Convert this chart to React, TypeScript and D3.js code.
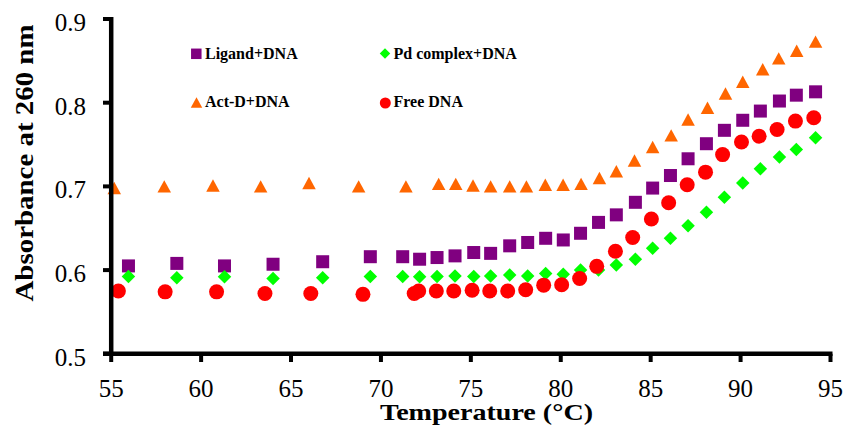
import React from "react";
import * as d3 from "d3";

const xTicks = [55, 60, 65, 70, 75, 80, 85, 90, 95];
const yTicks = [0.5, 0.6, 0.7, 0.8, 0.9];

const ligandT = [55.96, 58.65, 61.3, 64.0, 66.76, 69.41, 71.21, 72.15, 73.12, 74.12, 75.16, 76.1, 77.16, 78.16, 79.16, 80.14, 81.1, 82.1, 83.09, 84.15, 85.11, 86.1, 87.08, 88.1, 89.1, 90.12, 91.1, 92.16, 93.1, 94.17];
const ligandV = [0.605, 0.608, 0.605, 0.607, 0.61, 0.616, 0.616, 0.613, 0.615, 0.617, 0.621, 0.62, 0.629, 0.633, 0.638, 0.636, 0.644, 0.657, 0.666, 0.681, 0.698, 0.713, 0.733, 0.751, 0.767, 0.779, 0.79, 0.802, 0.809, 0.813];

const pdT = ligandT;
const pdV = [0.5925, 0.591, 0.592, 0.59, 0.591, 0.5925, 0.5925, 0.592, 0.5925, 0.593, 0.5925, 0.593, 0.594, 0.593, 0.596, 0.595, 0.6, 0.6, 0.606, 0.613, 0.626, 0.638, 0.653, 0.669, 0.687, 0.704, 0.721, 0.735, 0.744, 0.758];

const actT = [55.17, 57.95, 60.66, 63.31, 66.0, 68.76, 71.39, 73.21, 74.16, 75.12, 76.1, 77.16, 78.09, 79.14, 80.13, 81.13, 82.15, 83.09, 84.1, 85.11, 86.14, 87.08, 88.16, 89.16, 90.12, 91.23, 92.12, 93.12, 94.17];
const actV = [0.698, 0.7, 0.701, 0.7, 0.704, 0.7, 0.7, 0.703, 0.703, 0.701, 0.7, 0.7, 0.7, 0.702, 0.702, 0.703, 0.71, 0.718, 0.731, 0.747, 0.761, 0.78, 0.794, 0.811, 0.825, 0.84, 0.853, 0.862, 0.873];

const freeT = [55.4, 58.0, 60.86, 63.55, 66.1, 69.0, 71.85, 72.1, 73.08, 74.05, 75.07, 76.05, 77.05, 78.05, 79.05, 80.05, 81.05, 82.0, 83.04, 84.0, 85.04, 86.0, 87.03, 88.05, 89.0, 90.05, 91.03, 92.03, 93.05, 94.07];
const freeV = [0.575, 0.574, 0.574, 0.572, 0.572, 0.571, 0.572, 0.575, 0.575, 0.575, 0.576, 0.575, 0.575, 0.5765, 0.582, 0.5825, 0.59, 0.6045, 0.6225, 0.639, 0.661, 0.6805, 0.702, 0.717, 0.738, 0.753, 0.76, 0.768, 0.778, 0.782];

const seriesNames = ["Ligand+DNA", "Pd complex+DNA", "Act-D+DNA", "Free DNA"];
const seriesColors = ["#800080", "#00FF00", "#FF6600", "#FF0000"];

const FONT = '"Liberation Serif", "Times New Roman", serif';

type Shape = "square" | "diamond" | "triangle" | "circle";

function Marker({ shape, x, y, s, color }: { shape: Shape; x: number; y: number; s: number; color: string }) {
  const h = s / 2;
  if (shape === "square") return <rect x={x - h} y={y - h} width={s} height={s} fill={color} />;
  if (shape === "diamond") return <path d={`M${x},${y - h}L${x + h},${y}L${x},${y + h}L${x - h},${y}Z`} fill={color} />;
  if (shape === "triangle") return <path d={`M${x - h},${y + h * 0.92}L${x},${y - h * 0.92}L${x + h},${y + h * 0.92}Z`} fill={color} />;
  return <circle cx={x} cy={y} r={h} fill={color} />;
}

const txt = (size: number, bold = false): React.CSSProperties => ({
  fontFamily: FONT,
  fontSize: size + "px",
  fontWeight: bold ? 700 : 400,
});

export default function App() {
  const x = d3.scaleLinear().domain([55, 95]).range([111.2, 830.5]);
  const y = d3.scaleLinear().domain([0.5, 0.9]).range([353.8, 19]);

  const series: { name: string; color: string; shape: Shape; size: number; t: number[]; v: number[] }[] = [
    { name: seriesNames[0], color: seriesColors[0], shape: "square", size: 13, t: ligandT, v: ligandV },
    { name: seriesNames[1], color: seriesColors[1], shape: "diamond", size: 13.5, t: pdT, v: pdV },
    { name: seriesNames[2], color: seriesColors[2], shape: "triangle", size: 13.5, t: actT, v: actV },
    { name: seriesNames[3], color: seriesColors[3], shape: "circle", size: 15, t: freeT, v: freeV },
  ];

  const legendPos = [
    { mx: 196.3, my: 53.8, tx: 205, ty: 58.5 },
    { mx: 385, my: 53.5, tx: 393.5, ty: 58.5 },
    { mx: 196.5, my: 102.5, tx: 205, ty: 106.7 },
    { mx: 385.3, my: 103, tx: 393.5, ty: 106.7 },
  ];
  const legendSizes = [10.5, 10.5, 11.5, 11];

  return (
    <svg width={846} height={435} style={{ position: "absolute", left: 0, top: 0, background: "#fff" }}>
      <rect x={0} y={0} width={846} height={435} fill="#fff" />
      {series.map((s, si) => (
        <g key={si}>
          {s.t.map((t, i) => (
            <Marker key={i} shape={s.shape} x={x(t)} y={y(s.v[i])} s={s.size} color={s.color} />
          ))}
        </g>
      ))}
      <line x1={111.2} x2={111.2} y1={17} y2={356} stroke="#000" strokeWidth={4.5} />
      <line x1={103} x2={832.5} y1={353.8} y2={353.8} stroke="#000" strokeWidth={4.5} />
      {yTicks.map((t) => (
        <g key={"y" + t}>
          <line x1={103} x2={111} y1={y(t)} y2={y(t)} stroke="#000" strokeWidth={4} />
          <text x={86} y={y(t) + 12} style={txt(25)} textAnchor="end" fill="#000">
            {d3.format(".1f")(t)}
          </text>
        </g>
      ))}
      {xTicks.map((t) => (
        <g key={"x" + t}>
          <line x1={x(t)} x2={x(t)} y1={353.8} y2={362} stroke="#000" strokeWidth={4} />
          <text x={x(t)} y={396.5} style={txt(25)} textAnchor="middle" fill="#000">
            {t}
          </text>
        </g>
      ))}
      <text x={380} y={420} style={txt(24, true)} textLength={213} lengthAdjust="spacingAndGlyphs" fill="#000">
        Temperature (°C)
      </text>
      <text transform="translate(33,163) rotate(-90)" textAnchor="middle" style={txt(26, true)} textLength={277} lengthAdjust="spacingAndGlyphs" fill="#000">
        Absorbance at 260 nm
      </text>
      {series.map((s, i) => (
        <g key={"l" + i}>
          <Marker shape={s.shape} x={legendPos[i].mx} y={legendPos[i].my} s={legendSizes[i]} color={s.color} />
          <text x={legendPos[i].tx} y={legendPos[i].ty} style={txt(16, true)} fill="#000">
            {s.name}
          </text>
        </g>
      ))}
    </svg>
  );
}
